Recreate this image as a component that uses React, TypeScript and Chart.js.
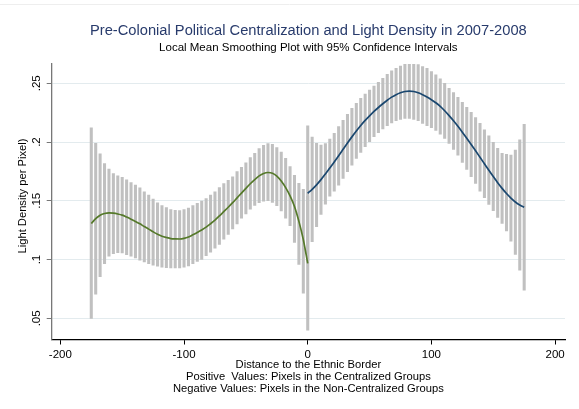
import React, { useEffect, useRef } from 'react';
import { Chart, registerables } from 'chart.js';

Chart.register(...registerables);

// ---------- data ----------
const leftX = [-175, -171.43, -167.86, -164.29, -160.71, -157.14, -153.57, -150, -146.43, -142.86,
  -139.29, -135.71, -132.14, -128.57, -125, -121.43, -117.86, -114.29, -110.71, -107.14,
  -103.57, -100, -96.43, -92.86, -89.29, -85.71, -82.14, -78.57, -75, -71.43,
  -67.86, -64.29, -60.71, -57.14, -53.57, -50, -46.43, -42.86, -39.29, -35.71,
  -32.14, -28.57, -25, -21.43, -17.86, -14.29, -10.71, -7.14, -3.57, 0];
const leftLow = [0.050, 0.0705, 0.0854, 0.0966, 0.1028, 0.1051, 0.1059, 0.1056, 0.1042, 0.1028,
  0.1014, 0.0994, 0.0980, 0.0966, 0.0952, 0.0944, 0.0935, 0.0932, 0.0930, 0.0930,
  0.0930, 0.0935, 0.0946, 0.0966, 0.0984, 0.1002, 0.1033, 0.1062, 0.1096, 0.1130,
  0.1173, 0.1215, 0.1261, 0.1304, 0.1352, 0.1389, 0.1429, 0.1460, 0.1484, 0.1497,
  0.1501, 0.1487, 0.1458, 0.1413, 0.1352, 0.1289, 0.1147, 0.0958, 0.0715, 0.0400];
const leftHigh = [0.212, 0.199, 0.190, 0.1817, 0.1769, 0.1732, 0.1713, 0.1699, 0.1679, 0.1656,
  0.1634, 0.1611, 0.1577, 0.1549, 0.1515, 0.1482, 0.1459, 0.1442, 0.1425, 0.1420,
  0.1417, 0.1425, 0.1439, 0.1459, 0.1479, 0.1498, 0.1520, 0.1549, 0.1577, 0.1612,
  0.1646, 0.1674, 0.1705, 0.1748, 0.1785, 0.1824, 0.1867, 0.1904, 0.1944, 0.1971,
  0.1986, 0.1981, 0.1953, 0.1915, 0.1862, 0.1791, 0.1716, 0.1649, 0.1597, 0.1540];
const leftMean = [0.1307, 0.1348, 0.1377, 0.1392, 0.1398, 0.1395, 0.1388, 0.1378, 0.1362, 0.1344,
  0.1325, 0.1304, 0.1281, 0.1259, 0.1236, 0.1215, 0.1199, 0.1188, 0.1179, 0.1176,
  0.1175, 0.1180, 0.1192, 0.1211, 0.1231, 0.1252, 0.1276, 0.1305, 0.1336, 0.1371,
  0.1408, 0.1445, 0.1484, 0.1525, 0.1566, 0.1606, 0.1645, 0.1681, 0.1712, 0.1733,
  0.1741, 0.1735, 0.1710, 0.1668, 0.1612, 0.1542, 0.1452, 0.1325, 0.1170, 0.0968];

const rightX = [0, 3.57, 7.14, 10.71, 14.29, 17.86, 21.43, 25, 28.57, 32.14,
  35.71, 39.29, 42.86, 46.43, 50, 53.57, 57.14, 60.71, 64.29, 67.86,
  71.43, 75, 78.57, 82.14, 85.71, 89.29, 92.86, 96.43, 100, 103.57,
  107.14, 110.71, 114.29, 117.86, 121.43, 125, 128.57, 132.14, 135.71, 139.29,
  142.86, 146.43, 150, 153.57, 157.14, 160.71, 164.29, 167.86, 171.43, 175];
const rightLow = [0.0990, 0.1152, 0.1279, 0.1384, 0.1472, 0.1540, 0.1583, 0.1634, 0.1690, 0.1747,
  0.1804, 0.1861, 0.1912, 0.1960, 0.2003, 0.2046, 0.2080, 0.2111, 0.2139, 0.2162,
  0.2182, 0.2193, 0.2202, 0.2202, 0.2193, 0.2182, 0.2159, 0.2139, 0.2122, 0.2099,
  0.2068, 0.2031, 0.1989, 0.1938, 0.1889, 0.1827, 0.1767, 0.1705, 0.1648, 0.1583,
  0.1526, 0.1470, 0.1416, 0.1359, 0.1308, 0.1243, 0.1157, 0.1044, 0.0910, 0.0740];
const rightHigh = [0.2139, 0.2043, 0.1989, 0.1975, 0.1986, 0.2026, 0.2074, 0.2131, 0.2185, 0.2236,
  0.2287, 0.2329, 0.2372, 0.2409, 0.2443, 0.2477, 0.2508, 0.2542, 0.2576, 0.2605,
  0.2627, 0.2647, 0.2661, 0.2667, 0.2667, 0.2659, 0.2642, 0.2627, 0.2599, 0.2571,
  0.2537, 0.2500, 0.2457, 0.2420, 0.2381, 0.2338, 0.2296, 0.2253, 0.2208, 0.2160,
  0.2103, 0.2052, 0.1998, 0.1947, 0.1904, 0.1895, 0.1890, 0.1932, 0.2018, 0.2151];
const rightMean = [0.1564, 0.1598, 0.1636, 0.1680, 0.1729, 0.1780, 0.1831, 0.1884, 0.1938, 0.1992,
  0.2044, 0.2094, 0.2141, 0.2184, 0.2223, 0.2260, 0.2294, 0.2326, 0.2356, 0.2382,
  0.2403, 0.2419, 0.2430, 0.2434, 0.2430, 0.2419, 0.2403, 0.2383, 0.2360, 0.2334,
  0.2303, 0.2266, 0.2225, 0.2181, 0.2134, 0.2084, 0.2032, 0.1979, 0.1925, 0.1870,
  0.1815, 0.1760, 0.1706, 0.1654, 0.1606, 0.1562, 0.1523, 0.1490, 0.1464, 0.1446];

const xTicks = [-200, -100, 0, 100, 200];
const xTickLabels = ['-200', '-100', '0', '100', '200'];
const yTicks = [0.05, 0.1, 0.15, 0.2, 0.25];
const yTickLabels = ['.05', '.1', '.15', '.2', '.25'];

const titleText = 'Pre-Colonial Political Centralization and Light Density in 2007-2008';
const subtitleText = 'Local Mean Smoothing Plot with 95% Confidence Intervals';
const xTitleLines = [
  'Distance to the Ethnic Border',
  'Positive  Values: Pixels in the Centralized Groups',
  'Negative Values: Pixels in the Non-Centralized Groups',
];
const yTitleText = 'Light Density per Pixel)';

// ---------- styles ----------
const FONT = '"Liberation Sans", Arial, Helvetica, sans-serif';
const CI_GRAY = '#c0c0c0';
const GREEN = '#55792a';
const NAVY = '#1a476f';
const TITLE_COLOR = '#283b6c';

export default function App() {
  const ref = useRef<HTMLCanvasElement>(null);

  useEffect(() => {
    const canvas = ref.current;
    if (!canvas) return;

    const textPlugin = {
      id: 'stataTexts',
      afterDraw(chart: any) {
        const ctx = chart.ctx as CanvasRenderingContext2D;
        const area = chart.chartArea;
        const cx = (area.left + area.right) / 2;
        ctx.save();
        ctx.strokeStyle = '#eeeeee';
        ctx.lineWidth = 1;
        ctx.beginPath();
        ctx.moveTo(0, 4.5);
        ctx.lineTo(579, 4.5);
        ctx.stroke();

        ctx.textAlign = 'center';
        ctx.textBaseline = 'alphabetic';
        ctx.fillStyle = TITLE_COLOR;
        ctx.font = `14.7px ${FONT}`;
        ctx.fillText(titleText, cx, 35);
        ctx.fillStyle = '#000';
        ctx.font = `11.5px ${FONT}`;
        ctx.fillText(subtitleText, cx, 50.5);

        ctx.font = `11.2px ${FONT}`;
        const baselines = [368, 380, 391.5];
        xTitleLines.forEach((t, i) => ctx.fillText(t, cx, baselines[i]));

        ctx.translate(22.5, 196);
        ctx.rotate(-Math.PI / 2);
        ctx.textBaseline = 'middle';
        ctx.fillText(yTitleText, 0, 0);
        ctx.restore();
      },
    };

    const lineStyle = {
      type: 'line',
      borderWidth: 1.7,
      pointRadius: 0,
      cubicInterpolationMode: 'monotone',
      fill: false,
      order: 0,
    };
    const barStyle = {
      type: 'bar',
      backgroundColor: CI_GRAY,
      borderWidth: 0,
      barThickness: 2.4,
      grouped: false,
      order: 1,
    };

    const chart = new Chart(canvas, {
      type: 'bar',
      data: {
        datasets: [
          { ...lineStyle, borderColor: GREEN, data: leftX.map((x, i) => ({ x, y: leftMean[i] })) } as any,
          { ...lineStyle, borderColor: NAVY, data: rightX.map((x, i) => ({ x, y: rightMean[i] })) } as any,
          { ...barStyle, data: leftX.map((x, i) => ({ x, y: [leftLow[i], leftHigh[i]] })) } as any,
          { ...barStyle, data: rightX.map((x, i) => ({ x, y: [rightLow[i], rightHigh[i]] })) } as any,
        ],
      },
      options: {
        responsive: false,
        animation: false,
        devicePixelRatio: 1,
        events: [],
        layout: { padding: { left: 0, right: 14, top: 64, bottom: 0 } },
        plugins: {
          legend: { display: false },
          tooltip: { enabled: false },
          title: { display: false },
        },
        scales: {
          x: {
            type: 'linear',
            min: -207,
            max: 208,
            offset: false,
            afterFit: (s: any) => { s.height = 69.5; },
            afterBuildTicks: (s: any) => { s.ticks = xTicks.map((v) => ({ value: v })); },
            grid: { display: true, drawOnChartArea: false, drawTicks: true, offset: false, tickColor: '#000', tickLength: 5, tickWidth: 1 },
            border: { display: true, color: '#000', width: 1.2 },
            ticks: {
              color: '#000',
              font: { family: FONT, size: 11.5 },
              padding: 3,
              maxRotation: 0,
              minRotation: 0,
              callback: (v: any) => xTickLabels[xTicks.indexOf(Number(v))] ?? '',
            },
          },
          y: {
            type: 'linear',
            min: 0.032,
            max: 0.2664,
            beginAtZero: false,
            afterFit: (s: any) => { s.width = 51.7; },
            afterBuildTicks: (s: any) => { s.ticks = yTicks.map((v) => ({ value: v })); },
            grid: { color: '#e3ebee', lineWidth: 1, drawTicks: true, tickColor: '#777', tickLength: 5, tickWidth: 1 },
            border: { display: true, color: '#777', width: 1.3 },
            ticks: {
              color: '#000',
              font: { family: FONT, size: 11.5 },
              minRotation: 90,
              maxRotation: 90,
              crossAlign: 'center',
              padding: 2,
              callback: (v: any) => {
                const idx = yTicks.findIndex((t) => Math.abs(t - Number(v)) < 1e-9);
                return idx >= 0 ? yTickLabels[idx] : '';
              },
            },
          },
        },
      } as any,
      plugins: [textPlugin],
    });

    return () => chart.destroy();
  }, []);

  return (
    <div style={{ position: 'fixed', left: 0, top: 0, width: 579, height: 409, background: '#ffffff' }}>
      <canvas ref={ref} width={579} height={409} style={{ display: 'block', width: 579, height: 409 }} />
    </div>
  );
}
